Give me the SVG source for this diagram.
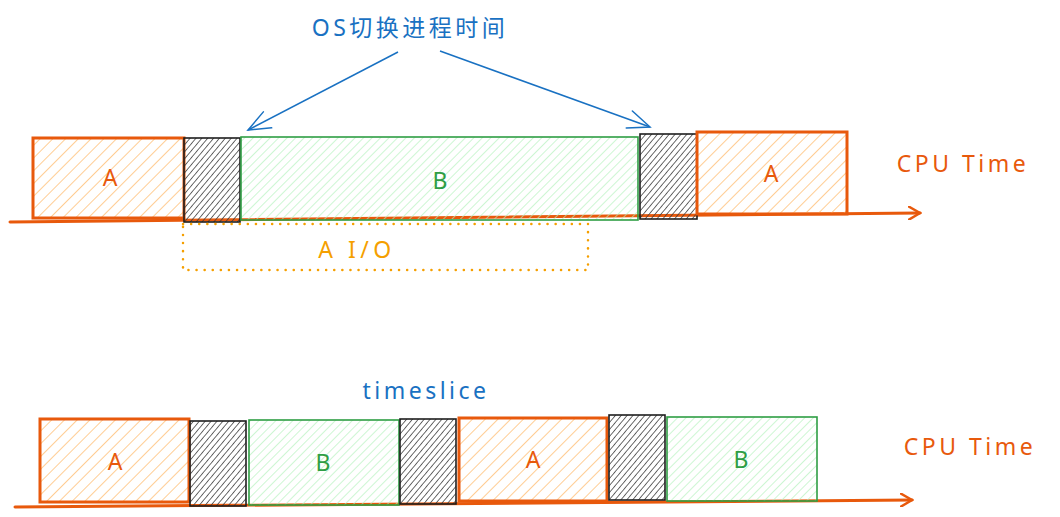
<svg xmlns="http://www.w3.org/2000/svg" width="1060" height="517" viewBox="0 0 1060 517">
<defs>
<pattern id="hA" patternUnits="userSpaceOnUse" width="9" height="9" patternTransform="rotate(45)"><line x1="0" y1="0" x2="0" y2="9" stroke="#ffc078" stroke-width="1.6"/></pattern>
<pattern id="hB" patternUnits="userSpaceOnUse" width="6" height="6" patternTransform="rotate(45)"><line x1="0" y1="0" x2="0" y2="6" stroke="#b2f2bb" stroke-width="1.3"/></pattern>
<pattern id="hG" patternUnits="userSpaceOnUse" width="4.5" height="4.5" patternTransform="rotate(40)"><line x1="0" y1="0" x2="0" y2="4.5" stroke="#3a3a3a" stroke-width="1.5"/></pattern>
<marker id="ao" markerWidth="14" markerHeight="14" refX="12" refY="7" orient="auto" markerUnits="userSpaceOnUse" viewBox="0 0 14 14"><path d="M0,0 L12,7 L0,14" fill="none" stroke="#e8590c" stroke-width="2.5" stroke-linecap="round"/></marker>
<marker id="ab" markerWidth="26" markerHeight="20" refX="24" refY="10" orient="auto" markerUnits="userSpaceOnUse" viewBox="0 0 26 20"><path d="M2,1 L24,10 L2,19" fill="none" stroke="#1971c2" stroke-width="1.5" stroke-linecap="round"/></marker>
</defs>
<style>
.a{fill:url(#hA);stroke:#e8590c;stroke-width:3}
.b{fill:url(#hB);stroke:#2f9e44;stroke-width:1.6}
.g{fill:url(#hG);stroke:#1e1e1e;stroke-width:1.6}
.t{font-family:"Noto Sans","Noto Sans CJK SC",sans-serif;font-size:23px;text-anchor:middle;dominant-baseline:central}
.to{fill:#e8590c}
.tg{fill:#2f9e44}
.tb{fill:#1971c2}
.ty{fill:#f59f00}
.ax{stroke:#e8590c;stroke-width:3;fill:none;stroke-linecap:round}
.ar{stroke:#1971c2;stroke-width:1.5;fill:none}
</style>
<g id="connectors">
<path class="ax" d="M10,222 L920,213" marker-end="url(#ao)"/>
<path class="ax" d="M15,507 L912,500" marker-end="url(#ao)"/>
<path class="ar" d="M398,52 L248,130" marker-end="url(#ab)"/>
<path class="ar" d="M440,51 L650,127" marker-end="url(#ab)"/>
</g>
<g id="title"><text class="t tb" x="410" y="27" letter-spacing="3.5">OS切换进程时间</text></g>
<g id="top-A1"><rect class="a" x="33" y="138" width="151" height="80"/><text class="t to" x="110" y="177">A</text></g>
<g id="top-S1"><rect class="g" x="184" y="138" width="56" height="84"/></g>
<g id="top-B"><rect class="b" x="241" y="137" width="397" height="83"/><text class="t tg" x="440" y="180">B</text></g>
<g id="top-S2"><rect class="g" x="640" y="134" width="57" height="85"/></g>
<g id="top-A2"><rect class="a" x="697" y="132" width="150" height="82"/><text class="t to" x="771" y="173">A</text></g>
<g id="cpu1"><text class="t to" x="963" y="163" letter-spacing="3.5">CPU Time</text></g>
<g id="aio"><rect x="183" y="224" width="405" height="46" fill="none" stroke="#f59f00" stroke-width="2.5" stroke-dasharray="0.1 8" stroke-linecap="round"/><text class="t ty" x="357" y="249" letter-spacing="4.5">A I/O</text></g>
<g id="timeslice"><text class="t tb" x="426" y="390" letter-spacing="3.5">timeslice</text></g>
<g id="bot-A1"><rect class="a" x="40" y="419" width="149" height="83"/><text class="t to" x="115" y="461">A</text></g>
<g id="bot-S1"><rect class="g" x="190" y="421" width="56" height="85"/></g>
<g id="bot-B1"><rect class="b" x="249" y="420" width="150" height="85"/><text class="t tg" x="323" y="462">B</text></g>
<g id="bot-S2"><rect class="g" x="400" y="419" width="56" height="85"/></g>
<g id="bot-A2"><rect class="a" x="459" y="418" width="148" height="83"/><text class="t to" x="533" y="459">A</text></g>
<g id="bot-S3"><rect class="g" x="609" y="415" width="56" height="85"/></g>
<g id="bot-B2"><rect class="b" x="667" y="417" width="150" height="84"/><text class="t tg" x="741" y="459">B</text></g>
<g id="cpu2"><text class="t to" x="970" y="446" letter-spacing="3.5">CPU Time</text></g>
</svg>
